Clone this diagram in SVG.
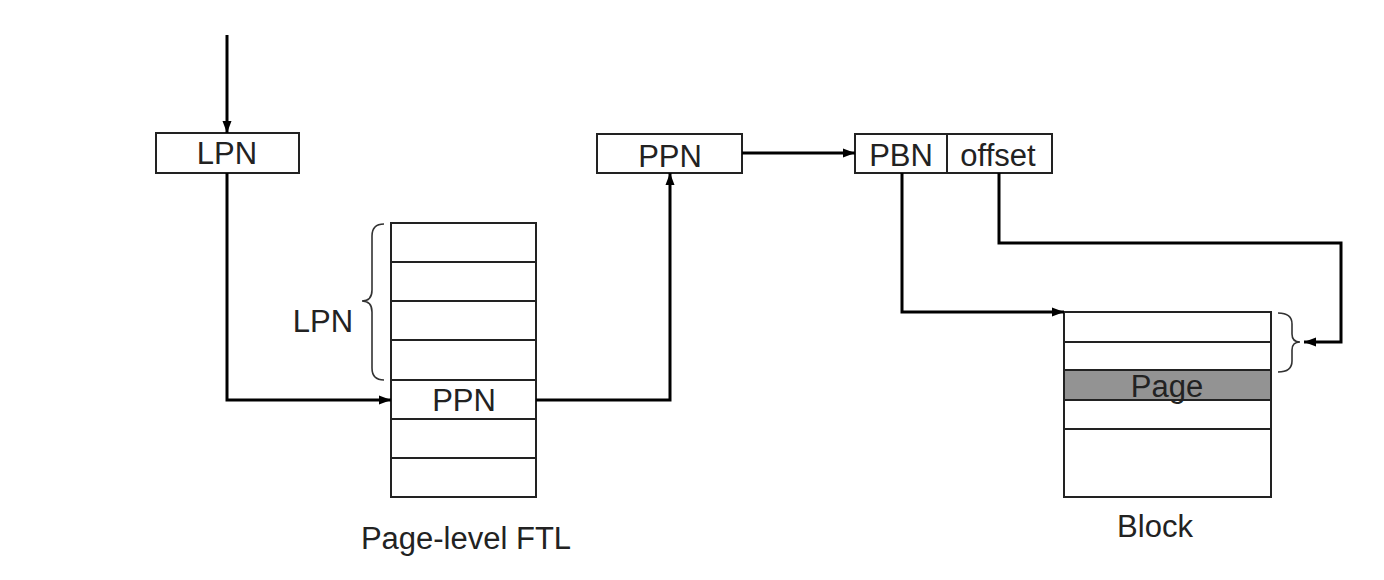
<svg xmlns="http://www.w3.org/2000/svg" width="1384" height="580" viewBox="0 0 1384 580">
<style>
.box{fill:#fff;stroke:#222;stroke-width:2}
.row{stroke:#222;stroke-width:2}
.t{font-family:"Liberation Sans",Arial,sans-serif;font-size:31px;fill:#222;text-anchor:middle}
.c{fill:none;stroke:#000;stroke-width:3}
.br{fill:none;stroke:#333;stroke-width:1.6}
</style>
<defs>
<marker id="ah" viewBox="0 0 12 10" refX="12" refY="5" markerWidth="12" markerHeight="10" markerUnits="userSpaceOnUse" orient="auto">
<path d="M0,0.5 L12,5 L0,9.5 Z" fill="#000"/>
</marker>
</defs>
<rect width="1384" height="580" fill="#fff"/>
<g id="lpn-box">
<rect class="box" x="156" y="133" width="143" height="40"/>
<text class="t" x="227" y="164">LPN</text>
</g>
<g id="ftl-table">
<rect class="box" x="391" y="223" width="145" height="274"/>
<line class="row" x1="391" y1="262" x2="536" y2="262"/>
<line class="row" x1="391" y1="301" x2="536" y2="301"/>
<line class="row" x1="391" y1="340" x2="536" y2="340"/>
<line class="row" x1="391" y1="380" x2="536" y2="380"/>
<line class="row" x1="391" y1="419" x2="536" y2="419"/>
<line class="row" x1="391" y1="458" x2="536" y2="458"/>
<text class="t" x="464" y="411">PPN</text>
<path class="br" d="M384,224 Q372,224 372,236 L372,290 Q372,301 362,301 Q372,301 372,312 L372,368 Q372,380 384,380"/>
<text class="t" x="323" y="332">LPN</text>
<text class="t" x="466" y="549">Page-level FTL</text>
</g>
<g id="ppn-box">
<rect class="box" x="597" y="134" width="145" height="39"/>
<text class="t" x="670" y="167">PPN</text>
</g>
<g id="pbn-box">
<rect class="box" x="855" y="134" width="197" height="39"/>
<line class="row" x1="947" y1="134" x2="947" y2="173"/>
<text class="t" x="901" y="166">PBN</text>
<text class="t" x="998" y="166">offset</text>
</g>
<g id="block">
<rect class="box" x="1064" y="312" width="207" height="185"/>
<rect x="1064" y="370" width="207" height="30" fill="#939393"/>
<line class="row" x1="1064" y1="342" x2="1271" y2="342"/>
<line class="row" x1="1064" y1="370" x2="1271" y2="370"/>
<line class="row" x1="1064" y1="400" x2="1271" y2="400"/>
<line class="row" x1="1064" y1="429" x2="1271" y2="429"/>
<rect x="1064" y="312" width="207" height="185" fill="none" stroke="#222" stroke-width="2"/>
<text class="t" x="1167" y="397">Page</text>
<path class="br" d="M1278,313 Q1292,313 1292,324 L1292,334 Q1292,342 1300,342 Q1292,342 1292,350 L1292,361 Q1292,372 1278,372"/>
<text class="t" x="1155" y="537">Block</text>
</g>
<g id="connectors">
<path class="c" d="M227,35 L227,133" marker-end="url(#ah)"/>
<path class="c" d="M227,173 L227,400 L391,400" marker-end="url(#ah)"/>
<path class="c" d="M536,400 L670,400 L670,173" marker-end="url(#ah)"/>
<path class="c" d="M742,153 L855,153" marker-end="url(#ah)"/>
<path class="c" d="M902,173 L902,312 L1064,312" marker-end="url(#ah)"/>
<path class="c" d="M999,173 L999,243 L1341,243 L1341,342 L1304,342" marker-end="url(#ah)"/>
</g>
</svg>
